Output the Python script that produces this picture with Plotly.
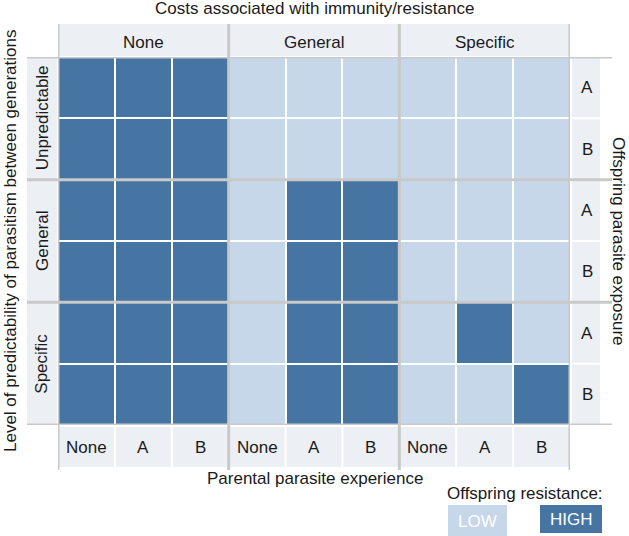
import plotly.graph_objects as go

W, H = 629, 536

cost_groups = ["None", "General", "Specific"]
parental = ["None", "A", "B"]
predict_groups = ["Unpredictable", "General", "Specific"]
offspring = ["A", "B"]

# 1 = HIGH offspring resistance, 0 = LOW ; rows top->bottom
resistance = [
    [1, 1, 1, 0, 0, 0, 0, 0, 0],  # Unpredictable A
    [1, 1, 1, 0, 0, 0, 0, 0, 0],  # Unpredictable B
    [1, 1, 1, 0, 1, 1, 0, 0, 0],  # General A
    [1, 1, 1, 0, 1, 1, 0, 0, 0],  # General B
    [1, 1, 1, 0, 1, 1, 0, 1, 0],  # Specific A
    [1, 1, 1, 0, 1, 1, 0, 0, 1],  # Specific B
]

LOW = "#c6d7e9"
HIGH = "#4674a3"
STRIP = "#eceff4"
GRID = "#c9c9c9"
FONT = "Liberation Sans, Arial, sans-serif"
TXT = "#1a1a1a"
FS = 17

# pixel geometry of the panel
X0, X1 = 58, 570
Y0, Y1 = 57, 425


def px(x):
    return x / W


def py(y):
    return 1 - y / H


ncol = len(resistance[0])
nrow = len(resistance)

fig = go.Figure()
fig.add_trace(go.Heatmap(
    z=resistance,
    x=list(range(ncol)),
    y=list(range(nrow)),
    colorscale=[[0, LOW], [0.5, LOW], [0.5, HIGH], [1, HIGH]],
    zmin=0, zmax=1,
    showscale=False,
    xgap=2, ygap=2,
    hoverinfo="skip",
))

shapes = []
ann = []


def label(text, x, y, xref="paper", yref="paper", angle=0, color=TXT, size=FS):
    ann.append(dict(x=x, y=y, xref=xref, yref=yref, text=text, textangle=angle,
                    showarrow=False, xanchor="center", yanchor="middle",
                    font=dict(size=size, color=color)))


# strips
shapes.append(dict(type="rect", xref="paper", yref="paper", x0=px(X0), x1=px(X1),
                   y0=py(24), y1=py(Y0 - 1), fillcolor=STRIP, line_width=0, layer="below"))
shapes.append(dict(type="rect", xref="paper", yref="paper", x0=px(X0), x1=px(X1),
                   y0=py(467), y1=py(Y1 + 2), fillcolor=STRIP, line_width=0, layer="below"))
shapes.append(dict(type="rect", xref="paper", yref="paper", x0=px(27), x1=px(X0 - 1),
                   y0=py(Y1), y1=py(Y0), fillcolor=STRIP, line_width=0, layer="below"))
shapes.append(dict(type="rect", xref="paper", yref="paper", x0=px(X1 + 2), x1=px(600),
                   y0=py(Y1), y1=py(Y0), fillcolor=STRIP, line_width=0, layer="below"))

# thin white separators in strips
for i in range(1, ncol):
    if i % 3 == 0:
        continue
    x = i - 0.5
    shapes.append(dict(type="line", xref="x", yref="paper", x0=x, x1=x,
                       y0=py(467), y1=py(Y1 + 2), line=dict(color="white", width=2)))
for j in range(1, nrow):
    if j % 2 == 0:
        continue
    y = j - 0.5
    shapes.append(dict(type="line", xref="paper", yref="y", x0=px(X1 + 2), x1=px(600),
                       y0=y, y1=y, line=dict(color="white", width=2)))

# gray group lines
for i in range(0, ncol + 1, 3):
    x = i - 0.5
    shapes.append(dict(type="line", xref="x", yref="paper", x0=x, x1=x,
                       y0=py(470), y1=py(24), line=dict(color=GRID, width=3)))
for j in range(0, nrow + 1, 2):
    y = j - 0.5
    shapes.append(dict(type="line", xref="paper", yref="y", x0=px(27), x1=px(612),
                       y0=y, y1=y, line=dict(color=GRID, width=3)))

# strip labels
for g, name in enumerate(cost_groups):
    label(name, g * 3 + 1, py(42), xref="x")
for i in range(ncol):
    label(parental[i % 3], i, py(447), xref="x")
for g, name in enumerate(predict_groups):
    label(name, px(42), g * 2 + 0.5, yref="y", angle=-90)
for j in range(nrow):
    label(offspring[j % 2], px(587), j, yref="y")

# axis titles
label("Costs associated with immunity/resistance", px(315), py(8))
label("Parental parasite experience", px(315), py(478))
label("Level of predictability of parasitism between generations", px(10), py(241), angle=-90)
label("Offspring parasite exposure", px(619), py(241), angle=90)

# legend
label("Offspring resistance:", px(525), py(493))
shapes.append(dict(type="rect", xref="paper", yref="paper", x0=px(448), x1=px(507),
                   y0=py(537), y1=py(505), fillcolor=LOW, line_width=0))
shapes.append(dict(type="rect", xref="paper", yref="paper", x0=px(540), x1=px(602),
                   y0=py(533), y1=py(505), fillcolor=HIGH, line_width=0))
label("LOW", px(477), py(521), color="white")
label("HIGH", px(571), py(519), color="white")

fig.update_layout(
    width=W, height=H,
    margin=dict(l=0, r=0, t=0, b=0),
    paper_bgcolor="white", plot_bgcolor="white",
    font=dict(family=FONT),
    xaxis=dict(domain=[px(X0), px(X1)], range=[-0.5, ncol - 0.5], visible=False,
               fixedrange=True),
    yaxis=dict(domain=[py(Y1), py(Y0)], range=[nrow - 0.5, -0.5], visible=False,
               fixedrange=True),
    shapes=shapes,
    annotations=ann,
    showlegend=False,
)

fig.write_html("out.html", config={"displayModeBar": False},
               post_script="document.body.style.margin='0px';")
